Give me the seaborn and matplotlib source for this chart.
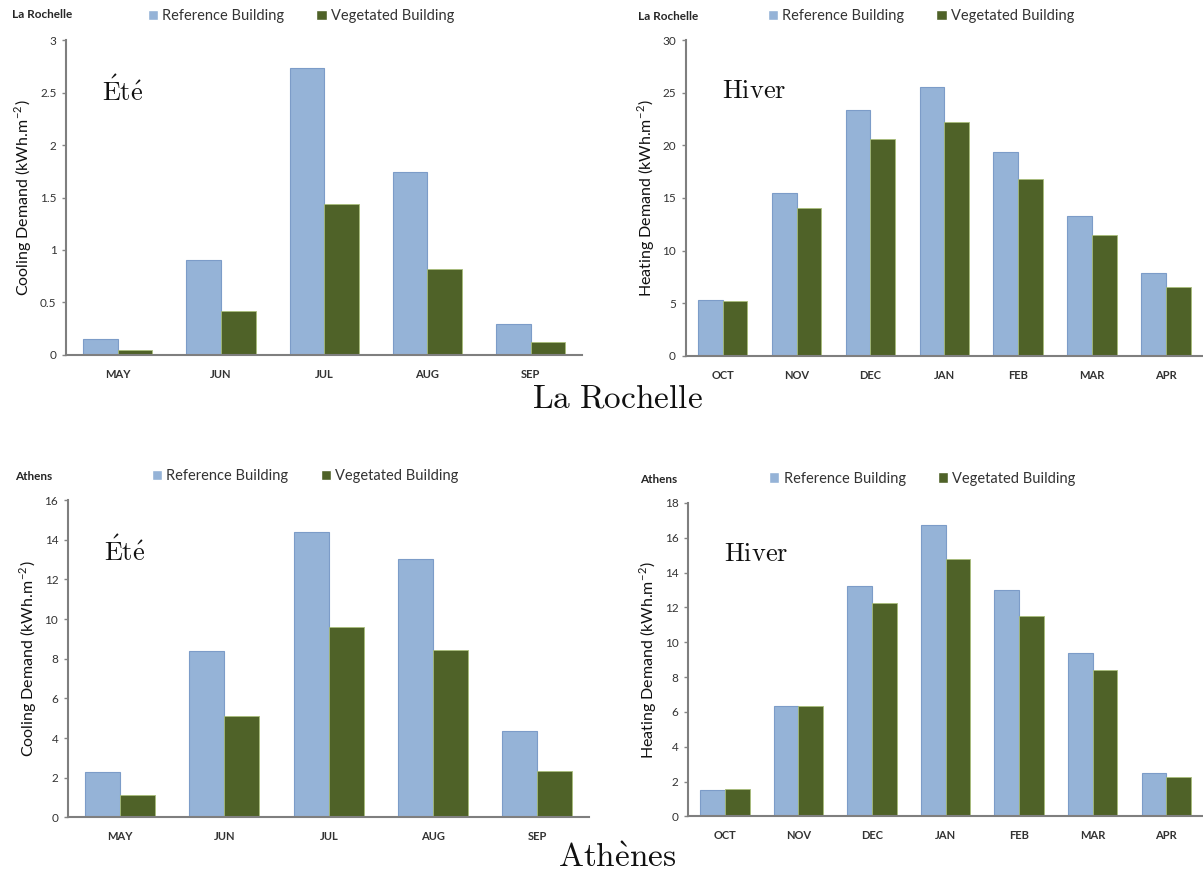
import pandas as pd
import matplotlib
matplotlib.use("Agg")
import matplotlib.pyplot as plt
import seaborn as sns

# Data
summer_months = ["MAY", "JUN", "JUL", "AUG", "SEP"]
winter_months = ["OCT", "NOV", "DEC", "JAN", "FEB", "MAR", "APR"]

lr_cool_ref = [0.15, 0.90, 2.74, 1.74, 0.29]
lr_cool_veg = [0.05, 0.42, 1.44, 0.82, 0.12]
lr_heat_ref = [5.3, 15.5, 23.4, 25.6, 19.4, 13.3, 7.9]
lr_heat_veg = [5.2, 14.05, 20.6, 22.2, 16.8, 11.5, 6.5]

ath_cool_ref = [2.31, 8.39, 14.4, 13.05, 4.34]
ath_cool_veg = [1.13, 5.10, 9.59, 8.44, 2.35]
ath_heat_ref = [1.53, 6.35, 13.21, 16.73, 13.0, 9.37, 2.49]
ath_heat_veg = [1.57, 6.35, 12.24, 14.76, 11.49, 8.43, 2.26]

series_names = ["Reference Building", "Vegetated Building"]
REF_COLOR = "#95B3D7"
VEG_COLOR = "#4F6228"

sns.set_style("white")
plt.rcParams["font.family"] = ["Lato", "DejaVu Sans"]
plt.rcParams["mathtext.fontset"] = "cm"


def make_frame(months, ref, veg):
    rows = []
    for m, v in zip(months, ref):
        rows.append({"Month": m, "Demand": v, "Building": series_names[0]})
    for m, v in zip(months, veg):
        rows.append({"Month": m, "Demand": v, "Building": series_names[1]})
    return pd.DataFrame(rows)


def draw_panel(ax, months, ref, veg, ymax, ystep, ylabel, season):
    df = make_frame(months, ref, veg)
    sns.barplot(data=df, x="Month", y="Demand", hue="Building", order=months,
                hue_order=series_names, palette=[REF_COLOR, VEG_COLOR],
                width=0.67, ax=ax, errorbar=None, saturation=1)
    for bar in ax.containers[0]:
        bar.set_edgecolor("#7C9CC8")
        bar.set_linewidth(0.8)
    for bar in ax.containers[1]:
        bar.set_edgecolor("#A9BE7A")
        bar.set_linewidth(0.6)

    ax.set_xlim(-0.5, len(months) - 0.5)
    ax.set_ylim(0, ymax)
    ticks = [i * ystep for i in range(int(round(ymax / ystep)) + 1)]
    ax.set_yticks(ticks)
    ax.set_yticklabels([f"{t:g}" for t in ticks], fontsize=8.5, color="#333333")
    ax.set_xticks(range(len(months)))
    ax.set_xticklabels(months, fontsize=8, color="#333333", fontweight="bold")
    ax.tick_params(axis="y", length=3, width=1, color="#868686", pad=4, left=True)
    ax.tick_params(axis="x", length=0, pad=10)
    ax.set_xlabel("")
    ax.set_ylabel(ylabel, fontsize=11.5, color="#111111")

    sns.despine(ax=ax)
    for side in ["left", "bottom"]:
        ax.spines[side].set_color("#7f7f7f")
        ax.spines[side].set_linewidth(1.5)

    leg = ax.legend(loc="center", bbox_to_anchor=(0.455, 1.077), ncol=2,
                    frameon=False, fontsize=10.5, handlelength=0.7,
                    handleheight=0.7, handletextpad=0.3, columnspacing=2.2)
    for t in leg.get_texts():
        t.set_color("#333333")

    # season label inside the plot area
    ax.text(0.07, 0.84, season, transform=ax.transAxes, fontsize=19,
            ha="left", va="center", color="#111111")


fig = plt.figure(figsize=(12.03, 8.76), dpi=100)
ax_tl = fig.add_axes([0.055, 0.595, 0.429, 0.359])
ax_tr = fig.add_axes([0.570, 0.594, 0.430, 0.360])
ax_bl = fig.add_axes([0.0565, 0.067, 0.4335, 0.362])
ax_br = fig.add_axes([0.572, 0.068, 0.428, 0.358])

cool_label = r"Cooling Demand (kWh.m$^{\mathregular{-2}}$)"
heat_label = r"Heating Demand (kWh.m$^{\mathregular{-2}}$)"
ete = r"$\mathrm{\acute{E}t\acute{e}}$"
hiver = r"$\mathrm{Hiver}$"

draw_panel(ax_tl, summer_months, lr_cool_ref, lr_cool_veg, 3, 0.5, cool_label, ete)
draw_panel(ax_tr, winter_months, lr_heat_ref, lr_heat_veg, 30, 5, heat_label, hiver)
draw_panel(ax_bl, summer_months, ath_cool_ref, ath_cool_veg, 16, 2, cool_label, ete)
draw_panel(ax_br, winter_months, ath_heat_ref, ath_heat_veg, 18, 2, heat_label, hiver)

# small city captions in the corner of each chart
fig.text(12 / 1203, 1 - 15 / 876, "La Rochelle", fontsize=8.5, fontweight="bold", va="center")
fig.text(638 / 1203, 1 - 17 / 876, "La Rochelle", fontsize=8.5, fontweight="bold", va="center")
fig.text(15 / 1203, 1 - 476 / 876, "Athens", fontsize=8.5, fontweight="bold", va="center")
fig.text(640 / 1203, 1 - 479 / 876, "Athens", fontsize=8.5, fontweight="bold", va="center")

# big row titles
fig.text(617 / 1203, 1 - 398 / 876, r"$\mathrm{La\ Rochelle}$", fontsize=24,
         ha="center", va="center", color="#111111")
fig.text(617 / 1203, 1 - 858 / 876, r"$\mathrm{Ath\grave{e}nes}$", fontsize=24,
         ha="center", va="center", color="#111111")

fig.savefig("out.png", dpi=100)
